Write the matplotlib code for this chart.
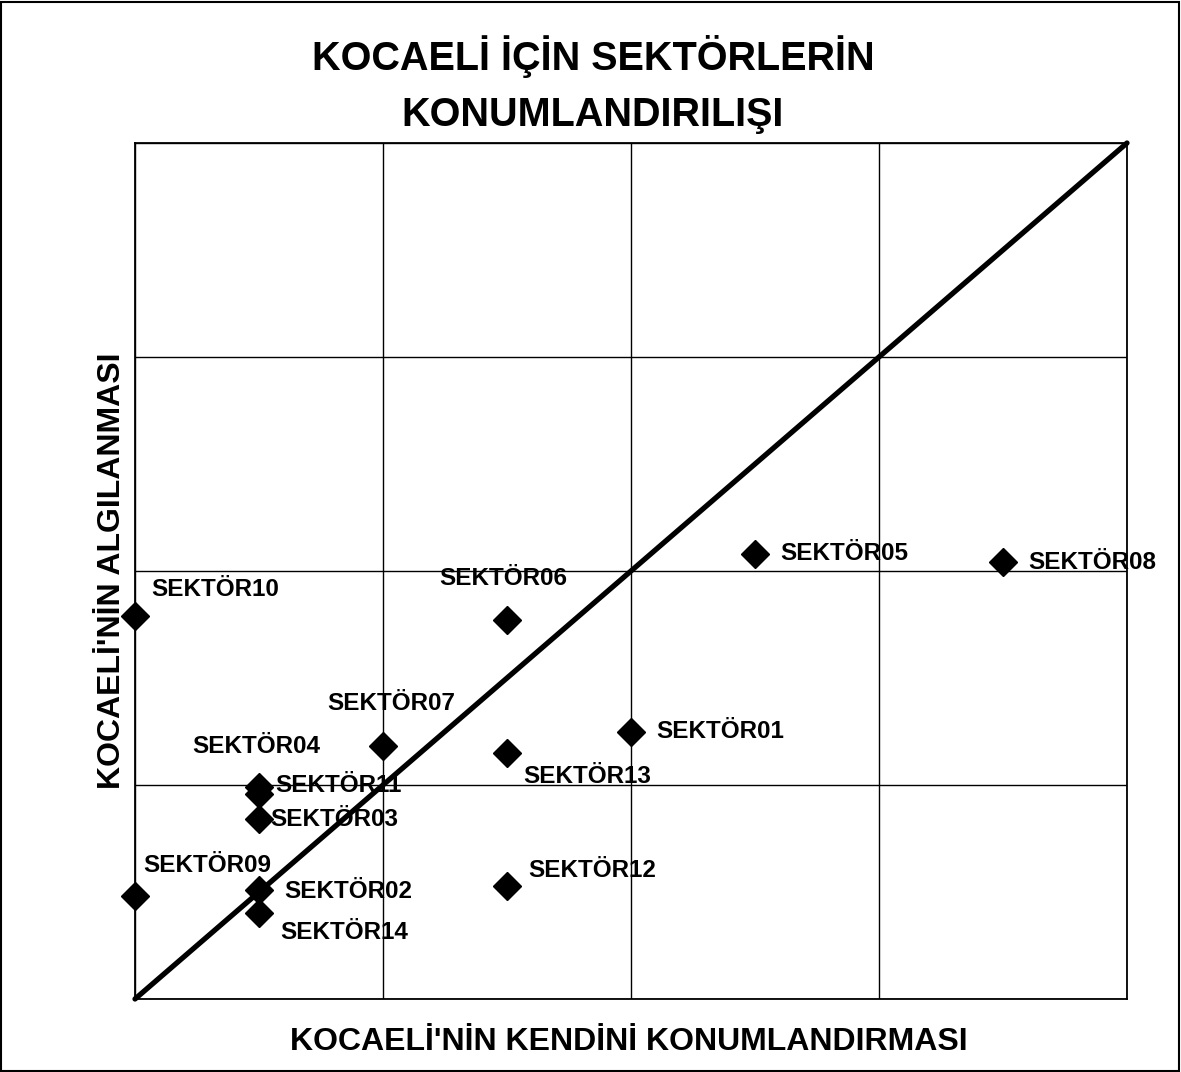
import matplotlib
matplotlib.use("Agg")
import matplotlib.pyplot as plt
from matplotlib.patches import Rectangle

plt.rcParams['font.family'] = ['Liberation Sans', 'DejaVu Sans']

# Data
sectors = ["SEKTÖR01", "SEKTÖR02", "SEKTÖR03", "SEKTÖR04", "SEKTÖR05", "SEKTÖR06", "SEKTÖR07",
           "SEKTÖR08", "SEKTÖR09", "SEKTÖR10", "SEKTÖR11", "SEKTÖR12", "SEKTÖR13", "SEKTÖR14"]
self_position = [2.0, 0.5, 0.5, 0.5, 2.5, 1.5, 1.0, 3.5, 0.0, 0.0, 0.5, 1.5, 1.5, 0.5]
perception = [1.25, 0.51, 0.84, 0.99, 2.08, 1.77, 1.18, 2.04, 0.48, 1.79, 0.96, 0.53, 1.15, 0.40]

title = "KOCAELİ İÇİN SEKTÖRLERİN\nKONUMLANDIRILIŞI"
xlabel = "KOCAELİ'NİN KENDİNİ KONUMLANDIRMASI"
ylabel = "KOCAELİ'NİN ALGILANMASI"

# label offsets in points (dx, dy) and alignment
offsets = {
    "SEKTÖR01": (18, 0, 'left'),
    "SEKTÖR02": (18, -1, 'left'),
    "SEKTÖR03": (8, 0, 'left'),
    "SEKTÖR04": (-2, 29, 'center'),
    "SEKTÖR05": (18, 0, 'left'),
    "SEKTÖR06": (-3, 30, 'center'),
    "SEKTÖR07": (6, 31, 'center'),
    "SEKTÖR08": (18, 0, 'left'),
    "SEKTÖR09": (6, 22, 'left'),
    "SEKTÖR10": (12, 19, 'left'),
    "SEKTÖR11": (12, 6, 'left'),
    "SEKTÖR12": (15, 11, 'left'),
    "SEKTÖR13": (12, -17, 'left'),
    "SEKTÖR14": (15, -14, 'left'),
}

fig = plt.figure(figsize=(11.81, 10.72), dpi=100)
ax = fig.add_axes([135/1181, 1 - 999/1072, 992/1181, 856/1072])

ax.set_xlim(0, 4)
ax.set_ylim(0, 4)
ax.set_xticks([0, 1, 2, 3, 4])
ax.set_yticks([0, 1, 2, 3, 4])
ax.tick_params(length=0, labelbottom=False, labelleft=False)
ax.grid(True, color='black', linewidth=1.0)
for s in ax.spines.values():
    s.set_linewidth(1.3)
    s.set_color('black')

ax.plot([0, 4], [0, 4], color='black', linewidth=3.8, solid_capstyle='round', zorder=3, clip_on=False)
ax.plot(self_position, perception, linestyle='none', marker='D', markersize=14.5,
        color='black', zorder=4, clip_on=False)

for name, x, y in zip(sectors, self_position, perception):
    dx, dy, ha = offsets[name]
    ax.annotate(name, (x, y), xytext=(dx, dy), textcoords='offset points',
                ha=ha, va='center', fontsize=17.5, fontweight='bold', zorder=5)

fig.text(593/1181, 1 - 84/1072, title, ha='center', va='center', fontsize=28.5,
         fontweight='bold', linespacing=1.6)
fig.text(629/1181, 1 - 1042/1072, xlabel, ha='center', va='center', fontsize=23, fontweight='bold')
fig.text(112/1181, 1 - 571/1072, ylabel, ha='center', va='center', fontsize=23,
         fontweight='bold', rotation=90)

fig.patches.append(Rectangle((1/1181, 1/1072), 1 - 3/1181, 1 - 3/1072, transform=fig.transFigure,
                             fill=False, edgecolor='black', linewidth=1.5))

fig.savefig("out.png", dpi=100, facecolor='white')
